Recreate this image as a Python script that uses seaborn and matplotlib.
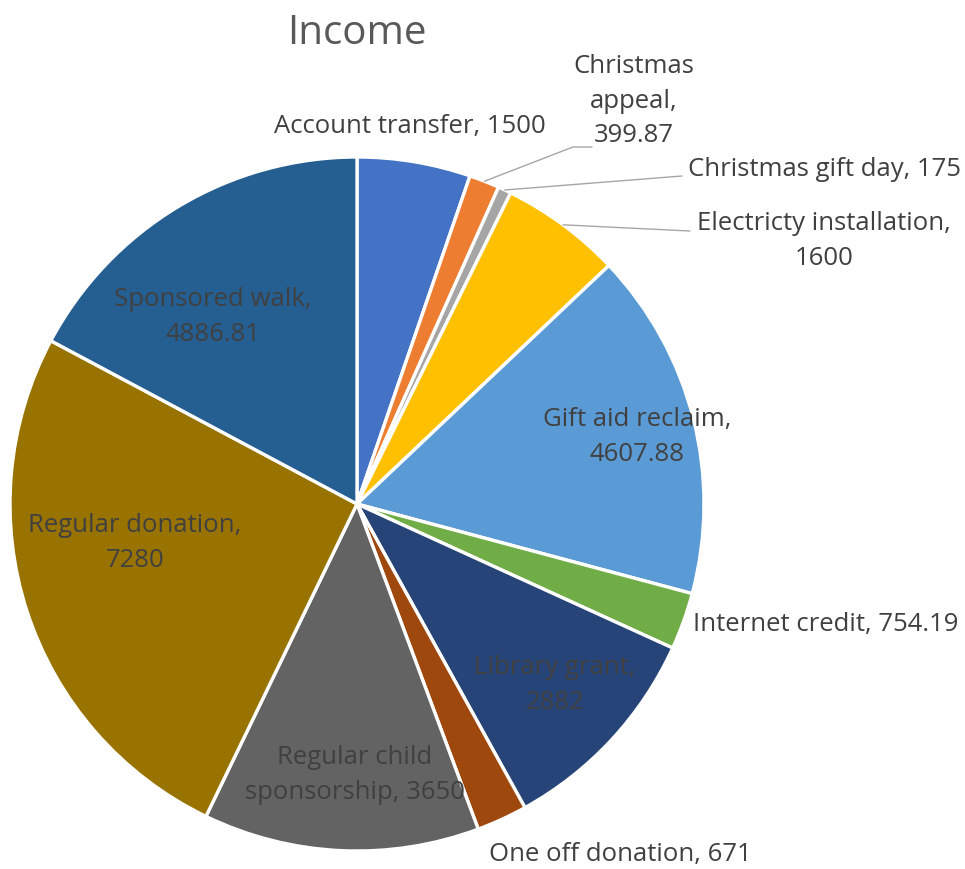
import matplotlib
matplotlib.use("Agg")
import matplotlib.pyplot as plt
import numpy as np
import seaborn as sns

# Data
categories = [
    "Account transfer", "Christmas appeal", "Christmas gift day",
    "Electricty installation", "Gift aid reclaim", "Internet credit",
    "Library grant", "One off donation", "Regular child sponsorship",
    "Regular donation", "Sponsored walk",
]
amounts = [1500, 399.87, 175, 1600, 4607.88, 754.19, 2882, 671, 3650, 7280, 4886.81]
value_text = ["1500", "399.87", "175", "1600", "4607.88", "754.19",
              "2882", "671", "3650", "7280", "4886.81"]
slice_colours = ["#4472C4", "#ED7D31", "#A5A5A5", "#FFC000", "#5B9BD5", "#70AD47",
                 "#264478", "#9E480E", "#636363", "#997300", "#255E91"]

sns.set_theme(style="white")
plt.rcParams["font.family"] = ["Open Sans", "DejaVu Sans"]

W, H = 965, 869
CX, CY, R = 357, 504, 347  # pie centre / radius in pixels

fig = plt.figure(figsize=(W / 100, H / 100), dpi=100)
ax = fig.add_axes([(CX - R) / W, (H - CY - R) / H, 2 * R / W, 2 * R / H])

ax.pie(
    amounts, colors=slice_colours, startangle=90, counterclock=False,
    wedgeprops=dict(edgecolor="white", linewidth=2.4),
)
ax.set_xlim(-1, 1)
ax.set_ylim(-1, 1)


def px(x, y):
    """pixel position -> pie data coords"""
    return (x - CX) / R, (CY - y) / R


# label layout: pixel centre, text wrapping, optional leader end point
layout = {
    "Account transfer": ((410, 127), "{c}, {v}", None),
    "Christmas appeal": ((634, 101), "Christmas\nappeal,\n{v}", [(573, 147), (592, 147)]),
    "Christmas gift day": ((825, 170), "{c}, {v}", [(682, 176)]),
    "Electricty installation": ((824, 241), "{c},\n{v}", [(690, 231)]),
    "Gift aid reclaim": ((637, 437), "{c},\n{v}", None),
    "Internet credit": ((826, 625), "{c}, {v}", None),
    "Library grant": ((555, 685), "{c},\n{v}", None),
    "One off donation": ((620, 855), "{c}, {v}", None),
    "Regular child sponsorship": ((355, 775), "Regular child\nsponsorship, {v}", None),
    "Regular donation": ((135, 543), "{c},\n{v}", None),
    "Sponsored walk": ((213, 317), "{c},\n{v}", None),
}

total = sum(amounts)
cum = np.cumsum([0] + amounts)
for i, cat in enumerate(categories):
    (lx, ly), fmt, leader = layout[cat]
    tx, ty = px(lx, ly)
    ax.text(tx, ty, fmt.format(c=cat, v=value_text[i]), ha="center", va="center",
            fontsize=18.5, color="#404040", linespacing=1.5)
    if leader:
        mid = (cum[i] + amounts[i] / 2) / total * 2 * np.pi
        pts = [(np.sin(mid), np.cos(mid))] + [px(*p) for p in leader]
        xs, ys = zip(*pts)
        ax.plot(xs, ys, color="#A6A6A6", linewidth=1, clip_on=False)

fig.text(CX / W, 1 - 34 / H, "Income", ha="center", va="center",
         fontsize=29, color="#595959")

fig.savefig("out.png", dpi=100)
